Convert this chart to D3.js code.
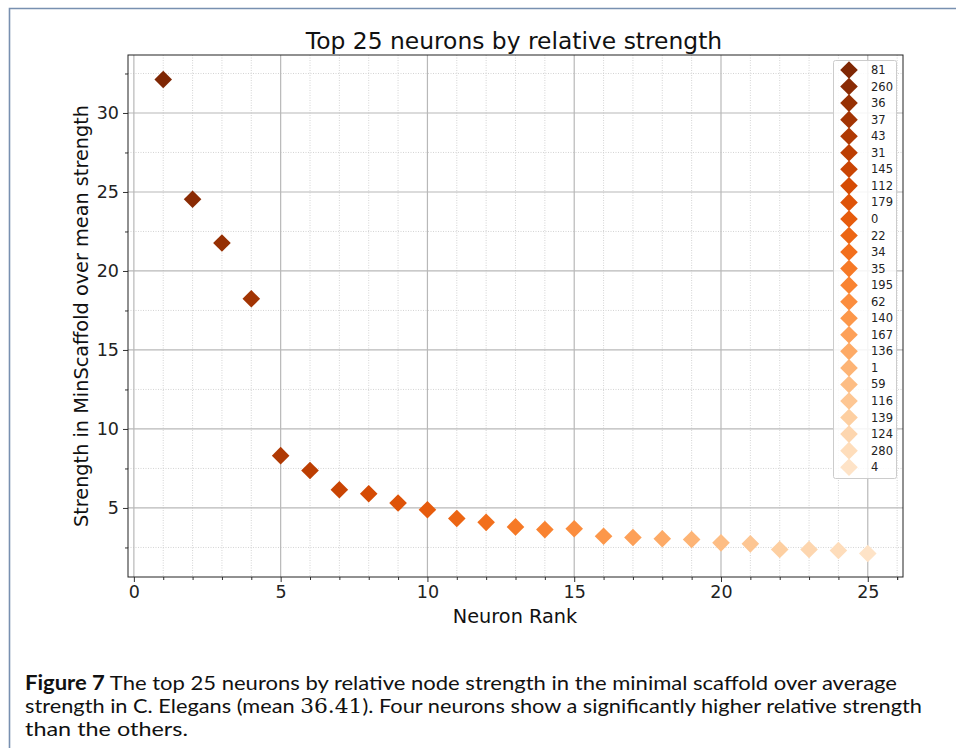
<!DOCTYPE html>
<html>
<head>
<meta charset="utf-8">
<script src="https://cdn.jsdelivr.net/npm/d3@7"></script>
<style>
    body { margin: 0; background: #fff; }
    svg { display: block; }
</style>
</head>
<body>
<div id="chart"></div>
<script>
// neuron rank -> relative strength
const ranks = d3.range(1, 26);
const strengths = [32.12, 24.54, 21.77, 18.24, 8.31, 7.37, 6.15, 5.90, 5.31, 4.89,
    4.33, 4.09, 3.80, 3.63, 3.68, 3.21, 3.13, 3.05, 3.00, 2.79,
    2.73, 2.37, 2.37, 2.31, 2.12];
const neuronIds = ['81', '260', '36', '37', '43', '31', '145', '112', '179', '0',
    '22', '34', '35', '195', '62', '140', '167', '136', '1', '59',
    '116', '139', '124', '280', '4'];
const xTicks = [0, 5, 10, 15, 20, 25];
const yTicks = [5, 10, 15, 20, 25, 30];

const width = 956, height = 748;
const plot = { left: 128, right: 903, top: 55, bottom: 577 };

const svg = d3.select('#chart').append('svg')
    .attr('width', width)
    .attr('height', height)
    .style('font-family', 'DejaVu Sans, sans-serif');

// page frame (left + top rule)
svg.append('path')
    .attr('d', `M9.5,${height} V8.5 H${width}`)
    .attr('fill', 'none')
    .attr('stroke', '#7890b0')
    .attr('stroke-width', 1.6);

const x = d3.scaleLinear().domain([-0.2, 26.2]).range([plot.left, plot.right]);
const y = d3.scaleLinear().domain([0.63, 33.67]).range([plot.bottom, plot.top]);

const color = i => d3.interpolateOranges(1 - i * 0.86 / 24);

// grid
const grid = svg.append('g');
const xMinor = d3.range(0, 27).filter(v => v % 5 !== 0);
const yMinor = [2.5, 7.5, 12.5, 17.5, 22.5, 27.5, 32.5];
grid.selectAll('.vminor').data(xMinor).enter().append('line')
    .attr('x1', d => x(d)).attr('x2', d => x(d))
    .attr('y1', plot.top).attr('y2', plot.bottom)
    .attr('stroke', '#cfcfcf').attr('stroke-width', 0.9).attr('stroke-dasharray', '1,1.5');
grid.selectAll('.hminor').data(yMinor).enter().append('line')
    .attr('y1', d => y(d)).attr('y2', d => y(d))
    .attr('x1', plot.left).attr('x2', plot.right)
    .attr('stroke', '#cfcfcf').attr('stroke-width', 0.9).attr('stroke-dasharray', '1,1.5');
grid.selectAll('.vmajor').data(xTicks).enter().append('line')
    .attr('x1', d => x(d)).attr('x2', d => x(d))
    .attr('y1', plot.top).attr('y2', plot.bottom)
    .attr('stroke', '#b8b8b8').attr('stroke-width', 1.2);
grid.selectAll('.hmajor').data(yTicks).enter().append('line')
    .attr('y1', d => y(d)).attr('y2', d => y(d))
    .attr('x1', plot.left).attr('x2', plot.right)
    .attr('stroke', '#b8b8b8').attr('stroke-width', 1.2);

// axes
const xAxis = svg.append('g')
    .attr('transform', `translate(0,${plot.bottom})`)
    .call(d3.axisBottom(x).tickValues(xTicks).tickSize(5).tickPadding(4).tickSizeOuter(0));
svg.append('g')
    .attr('transform', `translate(0,${plot.bottom})`)
    .call(d3.axisBottom(x).tickValues(xMinor.concat([26])).tickSize(3).tickFormat('').tickSizeOuter(0))
    .select('.domain').remove();
const yAxis = svg.append('g')
    .attr('transform', `translate(${plot.left},0)`)
    .call(d3.axisLeft(y).tickValues(yTicks).tickSize(5).tickPadding(4).tickSizeOuter(0));
svg.append('g')
    .attr('transform', `translate(${plot.left},0)`)
    .call(d3.axisLeft(y).tickValues(yMinor).tickSize(3).tickFormat('').tickSizeOuter(0))
    .select('.domain').remove();

svg.selectAll('.tick text')
    .style('font-size', '17.5px')
    .style('font-family', 'DejaVu Sans, sans-serif')
    .attr('fill', '#222');
svg.selectAll('.tick line').attr('stroke', '#333');

// frame
svg.append('rect')
    .attr('x', plot.left).attr('y', plot.top)
    .attr('width', plot.right - plot.left).attr('height', plot.bottom - plot.top)
    .attr('fill', 'none').attr('stroke', '#222').attr('stroke-width', 1);
xAxis.select('.domain').remove();
yAxis.select('.domain').remove();

// points
const diamond = d3.symbol().type(d3.symbolSquare).size(155);
svg.append('g').selectAll('path')
    .data(ranks)
    .enter()
    .append('path')
    .attr('d', diamond)
    .attr('transform', (d, i) => `translate(${x(d)},${y(strengths[i])}) rotate(45)`)
    .attr('fill', (d, i) => color(i));

// titles
svg.append('text')
    .attr('x', 514).attr('y', 49)
    .attr('text-anchor', 'middle')
    .style('font-size', '23.4px')
    .attr('fill', '#111')
    .text('Top 25 neurons by relative strength');
svg.append('text')
    .attr('x', 515).attr('y', 623)
    .attr('text-anchor', 'middle')
    .style('font-size', '19.3px')
    .attr('fill', '#111')
    .text('Neuron Rank');
svg.append('text')
    .attr('transform', `translate(88,${(plot.top + plot.bottom) / 2}) rotate(-90)`)
    .attr('text-anchor', 'middle')
    .style('font-size', '19.3px')
    .attr('fill', '#111')
    .text('Strength in MinScaffold over mean strength');

// legend
const legend = svg.append('g');
legend.append('rect')
    .attr('x', 833.5).attr('y', 60.5)
    .attr('width', 63).attr('height', 418)
    .attr('rx', 2)
    .attr('fill', '#fff').attr('fill-opacity', 0.85)
    .attr('stroke', '#ccc');
const entry = legend.selectAll('.entry')
    .data(neuronIds)
    .enter()
    .append('g')
    .attr('transform', (d, i) => `translate(849,${70 + i * 16.55})`);
entry.append('path')
    .attr('d', diamond)
    .attr('transform', 'rotate(45)')
    .attr('fill', (d, i) => color(i));
entry.append('text')
    .attr('x', 22).attr('dy', '0.35em')
    .style('font-size', '11.5px')
    .attr('fill', '#222')
    .text(d => d);

// caption
const caption = svg.append('g')
    .style('font-family', 'Lato, Open Sans, sans-serif')
    .style('font-size', '20px')
    .attr('fill', '#111');
const line1 = caption.append('text').attr('x', 25).attr('y', 690)
    .attr('textLength', 872).attr('lengthAdjust', 'spacingAndGlyphs');
line1.append('tspan').style('font-weight', 'bold').text('Figure 7');
line1.append('tspan').text(' The top 25 neurons by relative node strength in the minimal scaffold over average');
const line2 = caption.append('text').attr('x', 25).attr('y', 713)
    .attr('textLength', 897).attr('lengthAdjust', 'spacingAndGlyphs');
line2.append('tspan').text('strength in C. Elegans (mean ');
line2.append('tspan').style('font-family', 'DejaVu Serif, serif').text('36.41');
line2.append('tspan').text('). Four neurons show a significantly higher relative strength');
caption.append('text').attr('x', 25).attr('y', 736)
    .attr('textLength', 163).attr('lengthAdjust', 'spacingAndGlyphs')
    .text('than the others.');
</script>
</body>
</html>
